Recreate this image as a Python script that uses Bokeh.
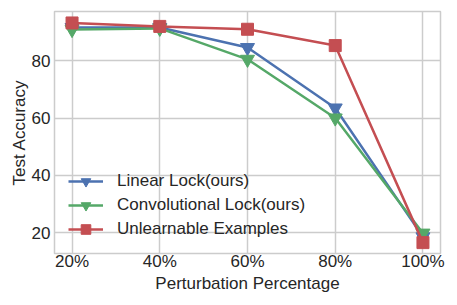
from bokeh.plotting import figure
from bokeh.models import FixedTicker, Range1d, Legend, LegendItem
from bokeh.embed import file_html
from bokeh.resources import INLINE

# ---- data ----
perturbation = [20, 40, 60, 80, 100]
tick_labels = ["20%", "40%", "60%", "80%", "100%"]
linear_lock = [91.6, 91.6, 84.6, 63.5, 18.5]
conv_lock = [90.9, 91.3, 80.5, 60.0, 19.8]
unlearnable = [93.2, 92.0, 91.0, 85.3, 16.5]
y_ticks = [20, 40, 60, 80]

BLUE = "#4C72B0"
GREEN = "#55A868"
RED = "#C44E52"
TXT = "#262626"
GRID = "#cccccc"
FONT = "Liberation Sans"
FS = "17px"

p = figure(frame_width=386, frame_height=242, output_backend="svg",
           toolbar_location=None,
           x_range=Range1d(16, 104), y_range=Range1d(12.7, 97.2),
           min_border_left=54, min_border_right=9, min_border_top=11,
           min_border_bottom=36)

p.background_fill_color = "white"
p.border_fill_color = "white"
p.outline_line_color = GRID
p.outline_line_width = 1.5

p.xaxis.ticker = FixedTicker(ticks=perturbation)
p.xaxis.major_label_overrides = {v: t for v, t in zip(perturbation, tick_labels)}
p.yaxis.ticker = FixedTicker(ticks=y_ticks)

for ax in (p.xaxis[0], p.yaxis[0]):
    ax.axis_line_color = None
    ax.major_tick_line_color = None
    ax.minor_tick_line_color = None
    ax.major_tick_out = 0
    ax.major_tick_in = 0
    ax.minor_tick_out = 0
    ax.minor_tick_in = 0
    ax.major_label_text_font = FONT
    ax.major_label_text_font_size = FS
    ax.major_label_text_color = TXT
    ax.axis_label_text_font = FONT
    ax.axis_label_text_font_size = FS
    ax.axis_label_text_font_style = "normal"
    ax.axis_label_text_color = TXT

p.xaxis.axis_label = "Perturbation Percentage"
p.yaxis.axis_label = "Test Accuracy"
p.xaxis.major_label_standoff = -2
p.xaxis.axis_label_standoff = 0
p.yaxis.major_label_standoff = 4
p.yaxis.axis_label_standoff = 0

p.xgrid.grid_line_color = GRID
p.ygrid.grid_line_color = GRID
p.xgrid.grid_line_width = 1.5
p.ygrid.grid_line_width = 1.5

LW = 2.5
l1 = p.line(perturbation, linear_lock, line_color=BLUE, line_width=LW)
m1 = p.scatter(perturbation, linear_lock, marker="inverted_triangle", size=14,
               fill_color=BLUE, line_color=BLUE)
l2 = p.line(perturbation, conv_lock, line_color=GREEN, line_width=LW)
m2 = p.scatter(perturbation, conv_lock, marker="inverted_triangle", size=14,
               fill_color=GREEN, line_color=GREEN)
l3 = p.line(perturbation, unlearnable, line_color=RED, line_width=LW)
m3 = p.scatter(perturbation, unlearnable, marker="square", size=12,
               fill_color=RED, line_color=RED)

legend = Legend(items=[
    LegendItem(label="Linear Lock(ours)", renderers=[l1, m1]),
    LegendItem(label="Convolutional Lock(ours)", renderers=[l2, m2]),
    LegendItem(label="Unlearnable Examples", renderers=[l3, m3]),
], location=(8, 6))
legend.background_fill_alpha = 0
legend.border_line_alpha = 0
legend.label_text_font = FONT
legend.label_text_font_size = FS
legend.label_text_color = TXT
legend.glyph_width = 35
legend.glyph_height = 24
legend.label_height = 20
legend.label_standoff = 14
legend.spacing = 0
legend.margin = 0
legend.padding = 6
p.add_layout(legend)

open("out.html", "w").write(file_html(p, INLINE))
